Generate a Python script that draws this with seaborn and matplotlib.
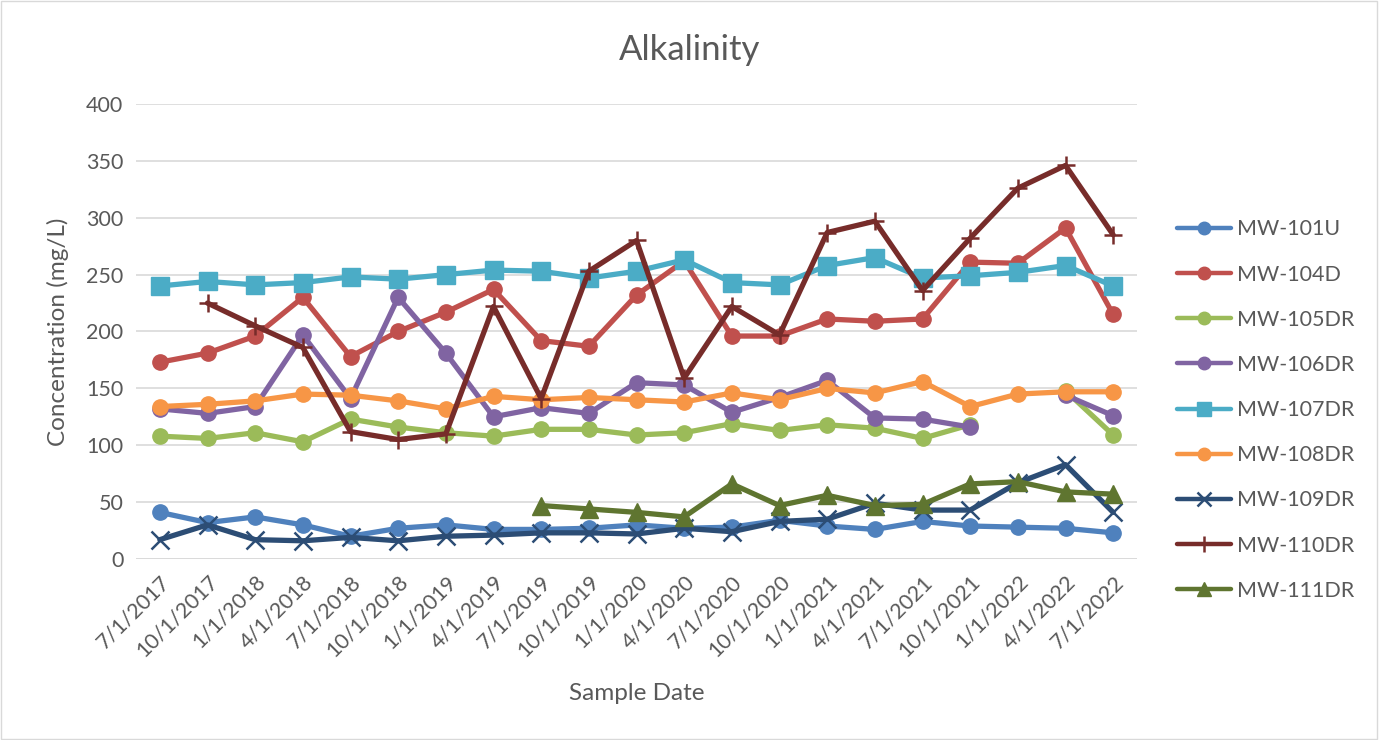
import numpy as np
import pandas as pd
import seaborn as sns
import matplotlib.pyplot as plt
from matplotlib.patches import Rectangle

nan = np.nan

dates = ['7/1/2017', '10/1/2017', '1/1/2018', '4/1/2018', '7/1/2018', '10/1/2018',
         '1/1/2019', '4/1/2019', '7/1/2019', '10/1/2019', '1/1/2020', '4/1/2020',
         '7/1/2020', '10/1/2020', '1/1/2021', '4/1/2021', '7/1/2021', '10/1/2021',
         '1/1/2022', '4/1/2022', '7/1/2022']

mw101u = [41, 32, 37, 30, 20, 27, 30, 26, 26, 27, 30, 27, 28, 34, 29, 26, 33, 29, 28, 27, 23]
mw104d = [173, 181, 196, 230, 178, 200, 217, 237, 192, 187, 232, 262, 196, 196, 211, 209, 211, 261, 260, 291, 215]
mw105dr = [108, 106, 111, 103, 123, 116, 111, 108, 114, 114, 109, 111, 119, 113, 118, 115, 106, 118, nan, 148, 109]
mw106dr = [132, 128, 134, 197, 141, 230, 181, 125, 133, 128, 155, 153, 129, 142, 157, 124, 123, 116, nan, 144, 126]
mw107dr = [240, 244, 241, 243, 248, 246, 250, 254, 253, 247, 253, 263, 243, 241, 258, 265, 247, 249, 252, 258, 240]
mw108dr = [134, 136, 139, 145, 144, 139, 132, 143, 140, 142, 140, 138, 146, 140, 150, 146, 156, 134, 145, 147, 147]
mw109dr = [17, 30, 17, 16, 19, 16, 20, 21, 23, 23, 22, 27, 24, 33, 35, 49, 43, 43, 67, 83, 41]
mw110dr = [nan, 225, 205, 186, 112, 105, 110, 222, 141, 253, 280, 159, 222, 197, 287, 297, 236, 282, 326, 346, 285]
mw111dr = [nan] * 8 + [47, 44, 41, 37, 66, 47, 56, 47, 48, 66, 68, 59, 57]

series = {
    'MW-101U': mw101u, 'MW-104D': mw104d, 'MW-105DR': mw105dr,
    'MW-106DR': mw106dr, 'MW-107DR': mw107dr, 'MW-108DR': mw108dr,
    'MW-109DR': mw109dr, 'MW-110DR': mw110dr, 'MW-111DR': mw111dr,
}

colors = {
    'MW-101U': '#4F81BD', 'MW-104D': '#C0504D', 'MW-105DR': '#9BBB59',
    'MW-106DR': '#8064A2', 'MW-107DR': '#4BACC6', 'MW-108DR': '#F79646',
    'MW-109DR': '#2C4D75', 'MW-110DR': '#772C2A', 'MW-111DR': '#5F7530',
}
# marker, size on the plot, size in the legend
markers = {
    'MW-101U': ('o', 11, 9), 'MW-104D': ('o', 11, 9), 'MW-105DR': ('o', 11, 9),
    'MW-106DR': ('o', 11, 9), 'MW-107DR': ('s', 13.5, 10), 'MW-108DR': ('o', 11, 9),
    'MW-109DR': ('x', 13, 10), 'MW-110DR': ('+', 13, 11), 'MW-111DR': ('^', 13, 10),
}

sns.set_theme(style='white')
plt.rcParams['font.family'] = ['Lato', 'DejaVu Sans']
grey = '#595959'

fig = plt.figure(figsize=(13.8, 7.4), dpi=100)
fig.patches.append(Rectangle((0.001, 0.001), 0.997, 0.997, transform=fig.transFigure,
                             fill=False, edgecolor='#D9D9D9', linewidth=1))
ax = fig.add_axes([136 / 1380, 1 - 559 / 740, (1137 - 136) / 1380, (559 - 104) / 740])

handles = []
for name, vals in series.items():
    df = pd.DataFrame({'x': np.arange(len(dates)), 'y': vals})
    # split at gaps so missing samples leave a break in the line
    df['seg'] = df['y'].isna().cumsum()
    df = df.dropna()
    m, ms, lms = markers[name]
    mew = 1.8 if m in ('x', '+') else 1
    for _, seg in df.groupby('seg'):
        sns.lineplot(data=seg, x='x', y='y', ax=ax, color=colors[name], linewidth=3.8,
                     marker=m, markersize=ms, markeredgecolor=colors[name],
                     markeredgewidth=mew, legend=False)
    handles.append(plt.Line2D([], [], color=colors[name], linewidth=3.2, marker=m,
                              markersize=lms, markeredgecolor=colors[name],
                              markeredgewidth=mew, label=name))

ax.set_xlim(-0.5, len(dates) - 0.5)
ax.set_ylim(0, 400)
ax.set_yticks(range(0, 401, 50))
ax.set_xticks(range(len(dates)))
ax.set_xticklabels(dates, rotation=45, ha='right', rotation_mode='anchor')
ax.tick_params(axis='both', colors=grey, labelsize=15.5, length=0, pad=9)
ax.yaxis.grid(True, color='#D9D9D9', linewidth=1.2)
ax.xaxis.grid(False)
for s in ax.spines.values():
    s.set_visible(False)
ax.axhline(0, color='#D9D9D9', linewidth=1.2, zorder=0)

ax.set_xlabel('Sample Date', fontsize=17.5, color=grey, labelpad=16)
ax.set_ylabel('Concentration (mg/L)', fontsize=17.5, color=grey, labelpad=12)
fig.text(0.5, 1 - 50 / 740, 'Alkalinity', fontsize=25, color=grey, ha='center', va='center')

leg = fig.legend(handles=handles, loc='upper left', bbox_to_anchor=(1158 / 1380, 1 - 200 / 740),
                 frameon=False, fontsize=15.5, labelspacing=1.17, handlelength=2.5,
                 handletextpad=0.25, labelcolor=grey)

fig.savefig('out.png', dpi=100)
